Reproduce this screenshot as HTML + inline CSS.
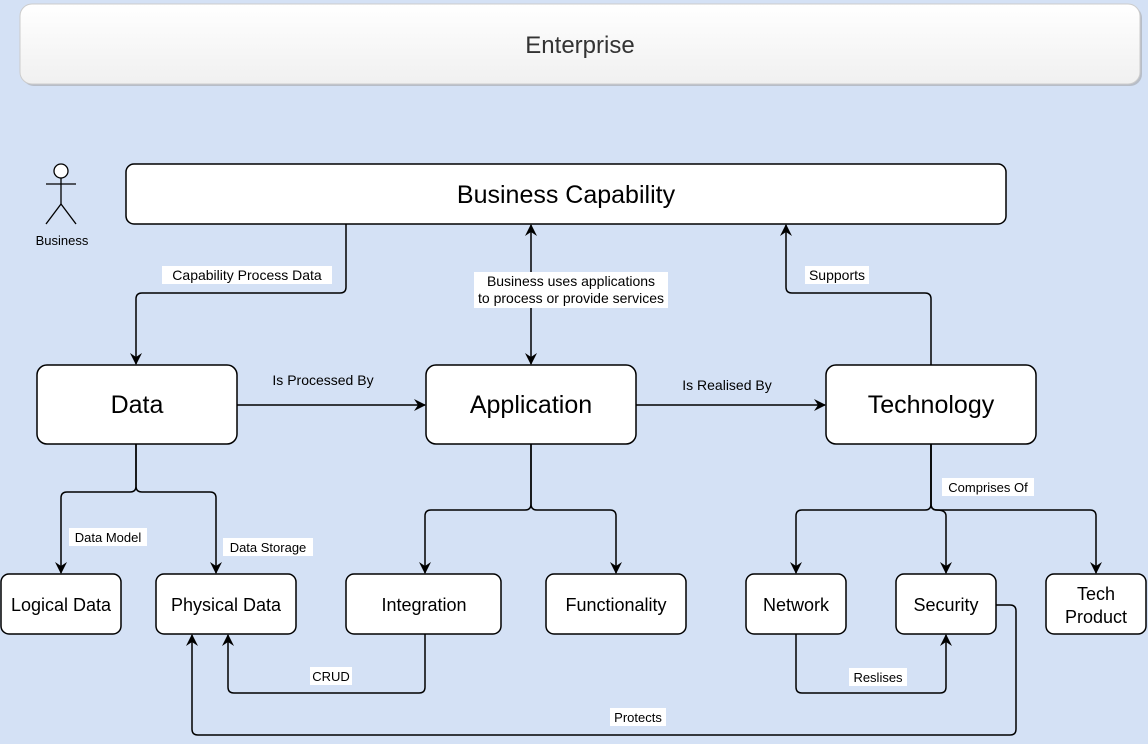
<!DOCTYPE html>
<html><head><meta charset="utf-8"><style>
html,body{margin:0;padding:0;background:#d4e1f5;}
svg{display:block;font-family:"Liberation Sans",Arial,sans-serif;}
</style></head><body>
<svg width="1148" height="744" viewBox="0 0 1148 744" xmlns="http://www.w3.org/2000/svg">
<defs>
<linearGradient id="g" x1="0" y1="0" x2="0" y2="1"><stop offset="0" stop-color="#ffffff"/><stop offset="1" stop-color="#f0f0f0"/></linearGradient>
<marker id="a" markerWidth="14" markerHeight="14" refX="11" refY="6" orient="auto" markerUnits="userSpaceOnUse"><path d="M0,0 L12,6 L0,12 L4,6 Z" fill="#000"/></marker>
</defs>
<rect width="1148" height="744" fill="#d4e1f5"/>
<rect x="22" y="6" width="1120" height="80" rx="12" fill="#999" opacity="0.5"/>
<rect x="20" y="4" width="1120" height="80" rx="12" fill="url(#g)" stroke="#ccc"/>
<text x="580" y="53" font-size="24" text-anchor="middle" fill="#333">Enterprise</text>

<g stroke="#000" stroke-width="1.3" fill="none">
<circle cx="61" cy="171" r="7" fill="#fff"/>
<line x1="61" y1="178" x2="61" y2="204"/><line x1="46" y1="184" x2="76" y2="184"/>
<line x1="61" y1="204" x2="46" y2="224"/><line x1="61" y1="204" x2="76" y2="224"/>
</g>
<text x="62" y="245" font-size="13" text-anchor="middle">Business</text>

<g stroke="#000" stroke-width="1.5" fill="#fff">
<rect x="126" y="164" width="880" height="60" rx="8"/>
<rect x="37" y="365" width="200" height="79" rx="10"/>
<rect x="426" y="365" width="210" height="79" rx="10"/>
<rect x="826" y="365" width="210" height="79" rx="10"/>
<rect x="1" y="574" width="120" height="60" rx="8"/>
<rect x="156" y="574" width="140" height="60" rx="8"/>
<rect x="346" y="574" width="155" height="60" rx="8"/>
<rect x="546" y="574" width="140" height="60" rx="8"/>
<rect x="746" y="574" width="100" height="60" rx="8"/>
<rect x="896" y="574" width="100" height="60" rx="8"/>
<rect x="1046" y="574" width="100" height="60" rx="8"/>
</g>
<g font-size="25" text-anchor="middle">
<text x="566" y="203">Business Capability</text>
<text x="137" y="413">Data</text>
<text x="531" y="413">Application</text>
<text x="931" y="413">Technology</text>
</g>
<g font-size="18" text-anchor="middle">
<text x="61" y="611">Logical Data</text>
<text x="226" y="611">Physical Data</text>
<text x="424" y="611">Integration</text>
<text x="616" y="611">Functionality</text>
<text x="796" y="611">Network</text>
<text x="946" y="611">Security</text>
<text x="1096" y="600">Tech</text>
<text x="1096" y="623">Product</text>
</g>

<g stroke="#000" stroke-width="1.5" fill="none" marker-end="url(#a)">
<path d="M346,224 V287 Q346,293 340,293 H142 Q136,293 136,299 V364"/>
<path d="M531,300 V364"/>
<path d="M531,300 V225"/>
<path d="M931,365 V299 Q931,293 925,293 H792 Q786,293 786,287 V225"/>
<path d="M237,405 H425"/>
<path d="M636,405 H825"/>
<path d="M136,444 V486 Q136,492 130,492 H67 Q61,492 61,498 V573"/>
<path d="M136,444 V486 Q136,492 142,492 H210 Q216,492 216,498 V573"/>
<path d="M531,444 V504 Q531,510 525,510 H431 Q425,510 425,516 V573"/>
<path d="M531,444 V504 Q531,510 537,510 H610 Q616,510 616,516 V573"/>
<path d="M931,444 V504 Q931,510 925,510 H802 Q796,510 796,516 V573"/>
<path d="M931,444 V504 Q931,510 937,510 Q946,510 946,516 V573"/>
<path d="M931,444 V504 Q931,510 937,510 H1090 Q1096,510 1096,516 V573"/>
<path d="M425,634 V687 Q425,693 419,693 H234 Q228,693 228,687 V635"/>
<path d="M796,634 V687 Q796,693 802,693 H940 Q946,693 946,687 V635"/>
<path d="M996,605 H1010 Q1016,605 1016,611 V729 Q1016,735 1010,735 H198 Q192,735 192,729 V635"/>
</g>

<g font-size="14" text-anchor="middle">
<rect x="162" y="266" width="170" height="18" fill="#fff"/>
<text x="247" y="280">Capability Process Data</text>
<rect x="474" y="272" width="194" height="36" fill="#fff"/>
<text x="571" y="286">Business uses applications</text>
<text x="571" y="303">to process or provide services</text>
<rect x="805" y="266" width="64" height="18" fill="#fff"/>
<text x="837" y="280">Supports</text>
<text x="323" y="385">Is Processed By</text>
<text x="727" y="390">Is Realised By</text>
<rect x="942" y="478" width="92" height="18" fill="#fff"/>
<text x="988" y="492" font-size="13">Comprises Of</text>
<rect x="69" y="528" width="78" height="18" fill="#fff"/>
<text x="108" y="542" font-size="13">Data Model</text>
<rect x="223" y="538" width="90" height="18" fill="#fff"/>
<text x="268" y="552" font-size="13">Data Storage</text>
<rect x="310" y="667" width="42" height="18" fill="#fff"/>
<text x="331" y="681" font-size="13">CRUD</text>
<rect x="849" y="668" width="58" height="18" fill="#fff"/>
<text x="878" y="682" font-size="13">Reslises</text>
<rect x="610" y="708" width="56" height="18" fill="#fff"/>
<text x="638" y="722" font-size="13">Protects</text>
</g>
</svg>
</body></html>
